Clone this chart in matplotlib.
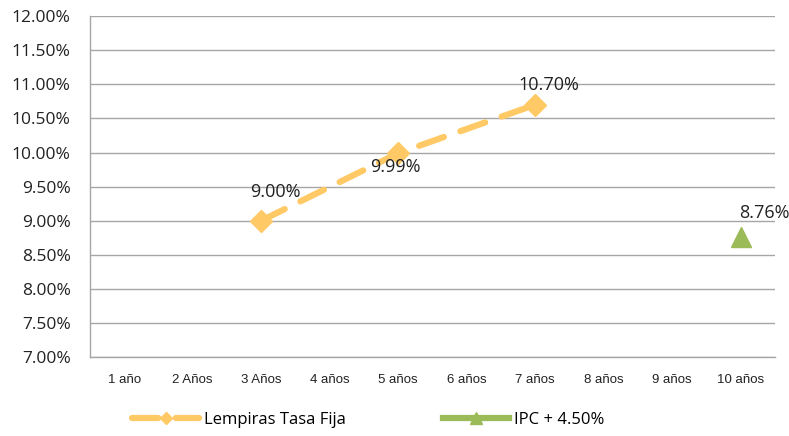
import numpy as np
import matplotlib.pyplot as plt
from matplotlib.ticker import FuncFormatter

# ---------- data ----------
categorias = ["1 año", "2 Años", "3 Años", "4 años", "5 años",
              "6 años", "7 años", "8 años", "9 años", "10 años"]
lempiras = [np.nan, np.nan, 9.00, np.nan, 9.99, np.nan, 10.70, np.nan, np.nan, np.nan]
ipc = [np.nan] * 9 + [8.76]

ORANGE = "#FFC966"
GREEN = "#9BBB59"
GRID = "#A6A6A6"

plt.rcParams["font.family"] = ["Open Sans", "DejaVu Sans"]

fig = plt.figure(figsize=(7.89, 4.36), dpi=100)
ax = fig.add_axes([0.114, 0.181, 0.868, 0.782])

x = np.arange(len(categorias))

# orange series: dashed line connecting the known points
lx = x[~np.isnan(lempiras)]
ly = np.array(lempiras)[~np.isnan(lempiras)]
ax.plot(lx, ly, color=ORANGE, lw=4.5, ls=(0, (4.2, 2.8)), dash_capstyle="round",
        marker="D", ms=11, mec=ORANGE, mfc=ORANGE, zorder=3,
        label="Lempiras Tasa Fija")
ax.plot(x, ipc, color=GREEN, lw=4.5, marker="^", ms=14, mec=GREEN, mfc=GREEN,
        zorder=3, label="IPC + 4.50%")

# data labels
offsets = {2: (10, 21), 4: (-2, -10), 6: (10, 14)}
for i, v in zip(lx, ly):
    dx, dy = offsets[int(i)]
    ax.annotate(f"{v:.2f}%", (i, v), xytext=(dx, dy), textcoords="offset points",
                ha="center", va="center", fontsize=13, color="#222222", zorder=4)
ax.annotate(f"{ipc[9]:.2f}%", (9, ipc[9]), xytext=(17, 17), textcoords="offset points",
            ha="center", va="center", fontsize=13, color="#222222", zorder=4)

ax.set_xlim(-0.5, len(categorias) - 0.5)
ax.set_ylim(7.0, 12.0)
ax.set_yticks(np.arange(7.0, 12.01, 0.5))
ax.yaxis.set_major_formatter(FuncFormatter(lambda v, p: f"{v:.2f}%"))
ax.set_xticks(x)
ax.set_xticklabels(categorias, fontsize=9.5, family=["Liberation Sans Narrow", "Liberation Sans", "DejaVu Sans"])
ax.tick_params(axis="y", length=0, labelsize=12.5, pad=14, labelcolor="#222222")
ax.tick_params(axis="x", length=0, pad=12, labelcolor="#222222")

ax.grid(axis="y", color=GRID, lw=1)
ax.set_axisbelow(True)
for s in ["top", "right"]:
    ax.spines[s].set_visible(False)
for s in ["left", "bottom"]:
    ax.spines[s].set_color(GRID)
    ax.spines[s].set_linewidth(1)

fig.legend(loc="lower center", bbox_to_anchor=(0.467, -0.015), ncol=2, frameon=False,
           fontsize=12, columnspacing=5.8, handlelength=4.0, handletextpad=0.3,
           markerscale=0.6)

fig.savefig("out.png", dpi=100)
